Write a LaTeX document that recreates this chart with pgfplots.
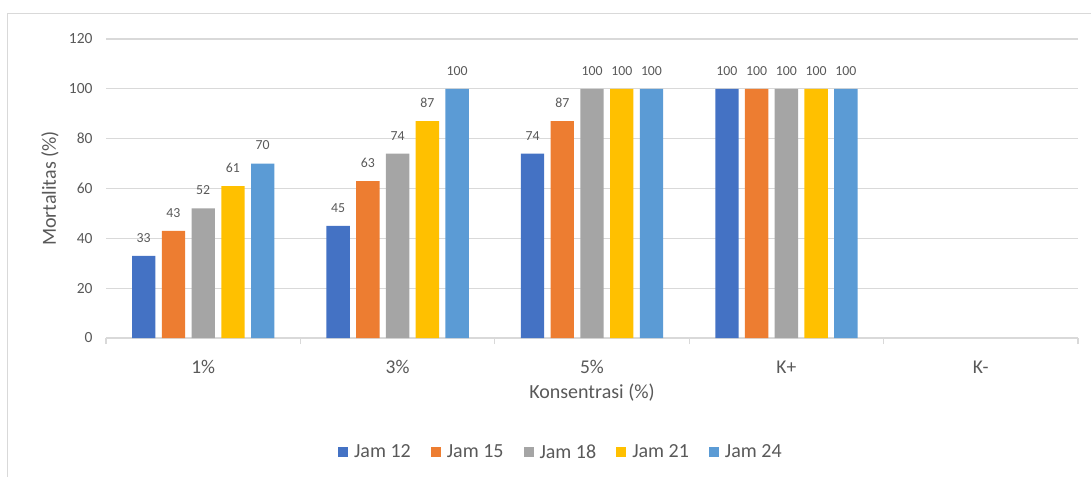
\documentclass[border=0pt]{standalone}
\usepackage{fontspec}
\setmainfont{Carlito}
\usepackage{pgfplots}
\pgfplotsset{compat=1.18}
\definecolor{c1}{HTML}{4472C4}
\definecolor{c2}{HTML}{ED7D31}
\definecolor{c3}{HTML}{A5A5A5}
\definecolor{c4}{HTML}{FFC000}
\definecolor{c5}{HTML}{5B9BD5}
\definecolor{txt}{HTML}{595959}
\definecolor{gridc}{HTML}{D9D9D9}
\begin{document}
\begin{tikzpicture}[x=1pt,y=1pt]
\path[use as bounding box] (0,0) rectangle (1091,477);
\draw[gridc, line width=1.3pt] (7.5,0.5) -- (7.5,463.5) -- (1091,463.5);
\begin{axis}[
  at={(106pt,139pt)}, anchor=south west,
  width=972pt, height=299pt, scale only axis,
  xmin=-0.5, xmax=4.5, ymin=0, ymax=120,
  ytick={0,20,...,120},
  xtick={0,1,2,3,4}, xticklabels={1\%,3\%,5\%,K+,K-},
  extra x ticks={-0.5,0.5,1.5,2.5,3.5,4.5}, extra x tick labels={},
  extra x tick style={major tick length=6pt, tick align=outside,
     xtick style={draw=gridc, line width=1.3pt}},
  axis x line*=bottom, axis y line*=left,
  y axis line style={draw=none},
  x axis line style={draw=gridc, line width=1.3pt, -},
  xtick style={draw=none}, ytick style={draw=none},
  ymajorgrids, grid style={draw=gridc, line width=1.3pt},
  /pgf/number format/assume math mode=true,
  yticklabel style={font=\fontsize{15.5}{18}\selectfont, text=txt, xshift=-10pt},
  xticklabel style={font=\fontsize{19.5}{22}\selectfont, text=txt, anchor=center, yshift=-25pt},
  xlabel={Konsentrasi (\%)},
  ylabel={Mortalitas (\%)},
  xlabel style={font=\fontsize{20}{24}\selectfont, text=txt, at={(axis description cs:0.5,0)}, anchor=center, yshift=-55pt},
  ylabel style={font=\fontsize{20}{24}\selectfont, text=txt, at={(axis description cs:0,0.5)}, anchor=center, yshift=56pt},
  ybar, bar width=0.12,
  nodes near coords,
  every node near coord/.append style={font=\fontsize{13.8}{16}\selectfont, text=txt, yshift=10pt},
  legend columns=5,
  legend style={at={(axis description cs:0.468,0)}, anchor=center, yshift=-114pt,
     draw=none, fill=none, font=\fontsize{20}{24}\selectfont, text=txt,
     nodes={inner sep=2pt},
     /tikz/every odd column/.append style={column sep=4pt},
     /tikz/every even column/.append style={column sep=18pt}},
  legend image code/.code={\fill[#1,draw=none] (0pt,-5pt) rectangle (10pt,5pt);},
]
\addplot[fill=c1, draw=none, bar shift=-0.306] coordinates {(0,33) (1,45) (2,74) (3,100)};
\addplot[fill=c2, draw=none, bar shift=-0.153] coordinates {(0,43) (1,63) (2,87) (3,100)};
\addplot[fill=c3, draw=none, bar shift=0] coordinates {(0,52) (1,74) (2,100) (3,100)};
\addplot[fill=c4, draw=none, bar shift=0.153] coordinates {(0,61) (1,87) (2,100) (3,100)};
\addplot[fill=c5, draw=none, bar shift=0.306] coordinates {(0,70) (1,100) (2,100) (3,100)};
\legend{Jam 12, Jam 15, Jam 18, Jam 21, Jam 24}
\end{axis}
\end{tikzpicture}
\end{document}
